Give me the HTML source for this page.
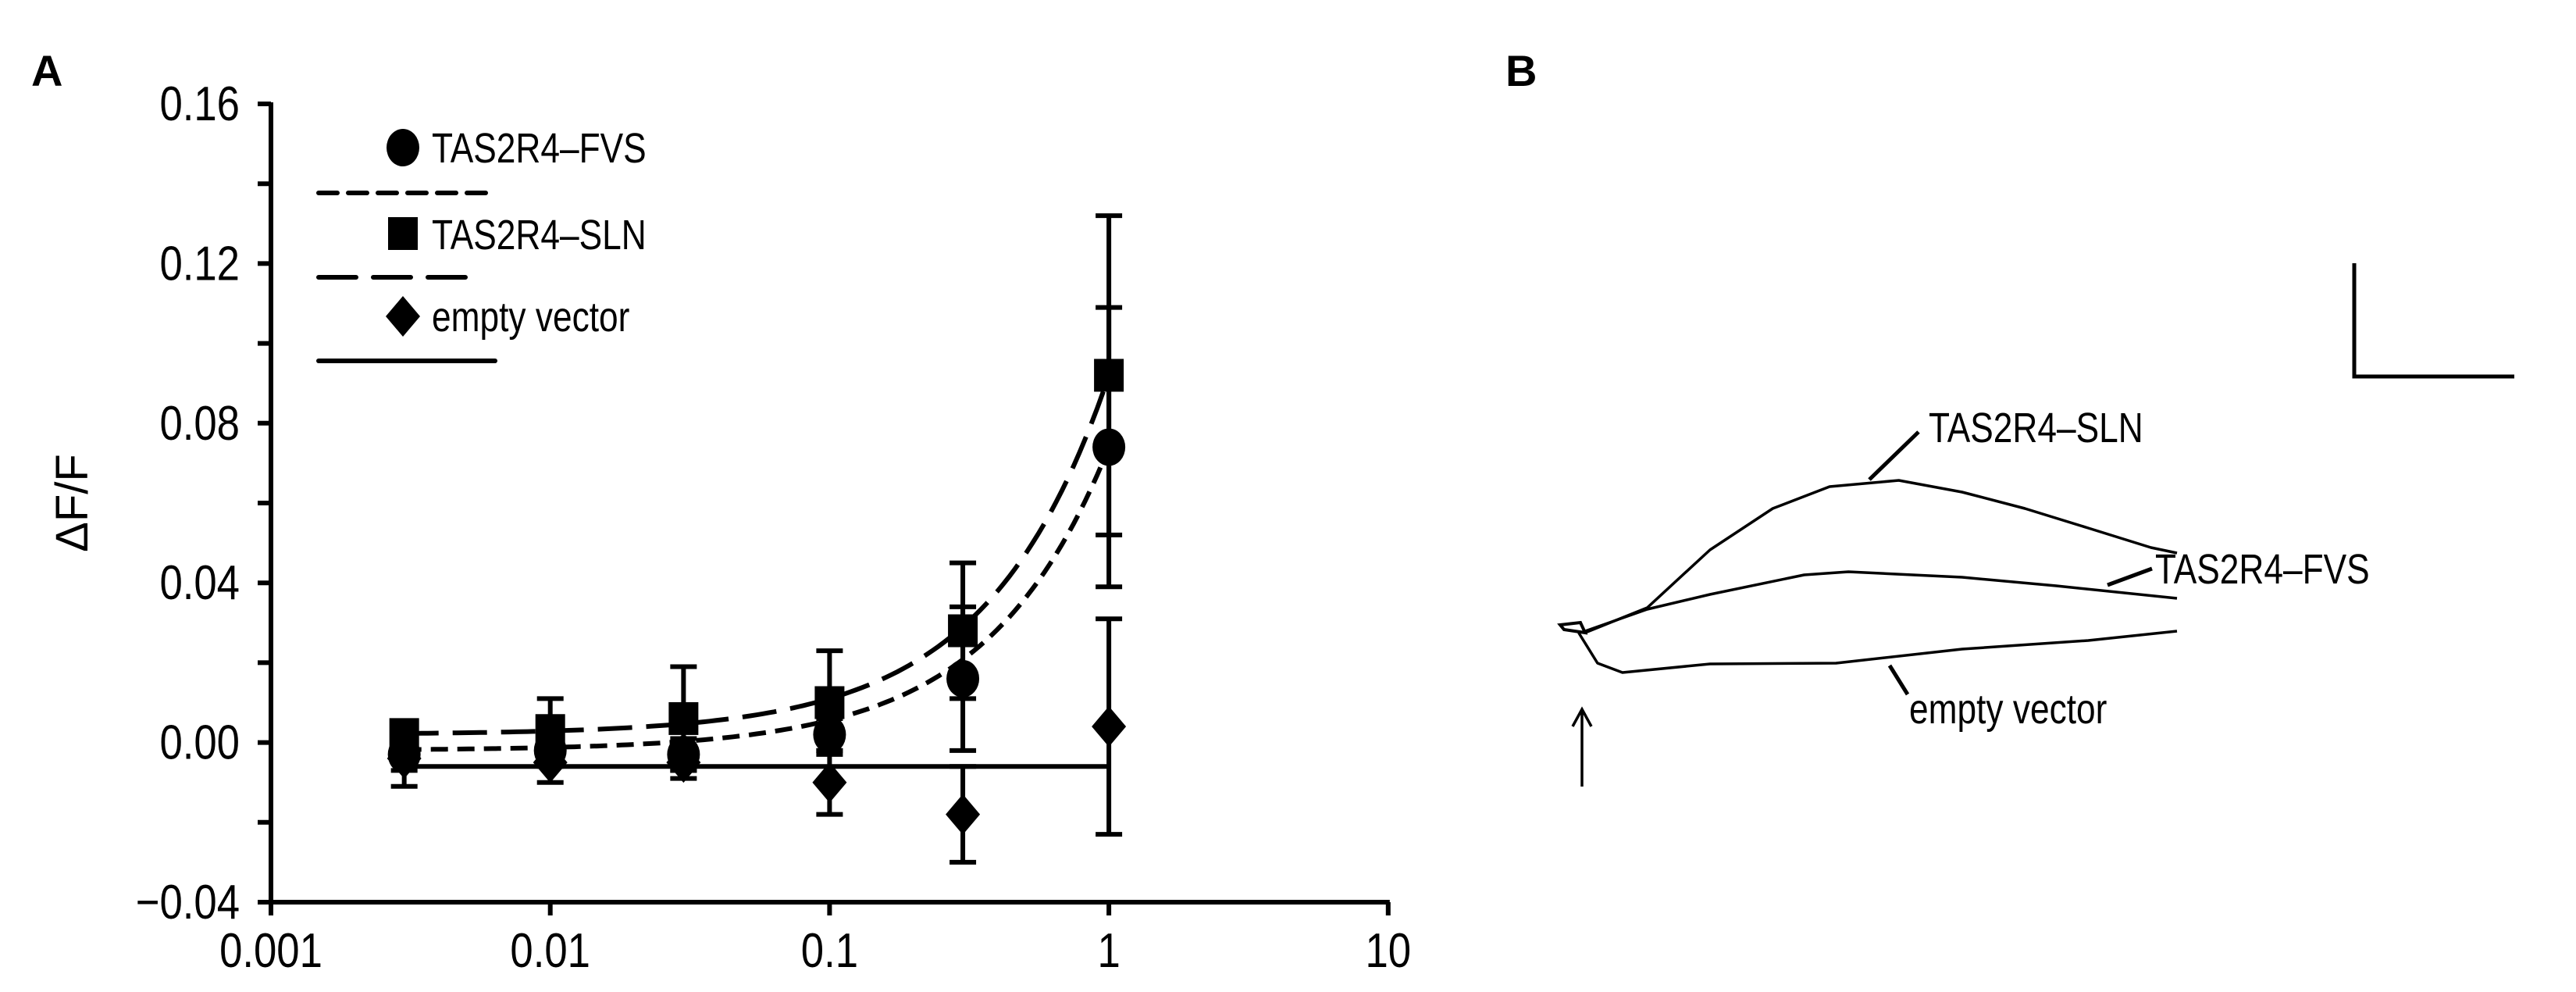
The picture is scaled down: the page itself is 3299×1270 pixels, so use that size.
<!DOCTYPE html>
<html><head><meta charset="utf-8"><style>
html,body{margin:0;padding:0;background:#fff;}
svg{display:block;}
text{font-family:"Liberation Sans",sans-serif;fill:#000;}
</style></head><body>
<svg id="fig" width="3299" height="1270" viewBox="0 0 3299 1270">
<text x="40" y="110" font-size="56" font-weight="bold">A</text>
<text x="1928" y="110" font-size="56" font-weight="bold">B</text>
<g id="axes"></g>
<g id="plot"></g>
<g id="legend"></g>
<g id="traces"></g>
</svg>
<script>
const xVals=[0.003,0.01,0.03,0.1,0.3,1];
const fvsVals=[-0.003,-0.002,-0.003,0.002,0.016,0.074];
const fvsErr=[0.004,0.004,0.004,0.004,0.018,0.035];
const slnVals=[0.002,0.003,0.006,0.010,0.028,0.092];
const slnErr=[0.003,0.008,0.013,0.013,0.017,0.040];
const evVals=[-0.004,-0.005,-0.005,-0.010,-0.018,0.004];
const evErr=[0.007,0.005,0.004,0.008,0.012,0.027];
const evLevel=-0.006;
const fvsFit=[-0.002,0.076];
const slnFit=[0.002,0.090];
const yTicks=[-0.04,0,0.04,0.08,0.12,0.16];
const yTickLabels=["\u22120.04","0.00","0.04","0.08","0.12","0.16"];
const xTicks=[0.001,0.01,0.1,1,10];
const xTickLabels=["0.001","0.01","0.1","1","10"];
// panel B traces: [time fraction, response]
const slnTrace=[[0,0.0],[0.105,0.032],[0.211,0.106],[0.317,0.159],[0.413,0.187],[0.53,0.195],[0.637,0.18],[0.743,0.159],[0.85,0.134],[0.956,0.109],[1,0.102]];
const fvsTrace=[[0,0.002],[0.105,0.03],[0.211,0.049],[0.37,0.074],[0.445,0.078],[0.637,0.071],[0.796,0.06],[1,0.044]];
const evTrace=[[-0.011,0.0],[0.021,-0.039],[0.063,-0.051],[0.211,-0.04],[0.424,-0.039],[0.637,-0.021],[0.85,-0.01],[1,0.002]];

const NS="http://www.w3.org/2000/svg";
const X0=347,DEC=357.7,Y0=133,YPU=5110;
function sx(v){return X0+(Math.log10(v)+3)*DEC;}
function sy(v){return Y0+(0.16-v)*YPU;}
function mk(tag,attrs,parent){const e=document.createElementNS(NS,tag);for(const k in attrs)e.setAttribute(k,attrs[k]);parent.appendChild(e);return e;}
const axes=document.getElementById('axes'),plot=document.getElementById('plot'),leg=document.getElementById('legend'),tr=document.getElementById('traces');
const SC=0.85,LS=0.82;

let e=mk('line',{x1:X0,y1:sy(0.16)-2,x2:X0,y2:sy(-0.04)+17,stroke:'#000','stroke-width':6},axes);

e=mk('line',{x1:X0-17,y1:sy(-0.04),x2:sx(10)+2,y2:sy(-0.04),stroke:'#000','stroke-width':6},axes);

for(let v=-0.04;v<=0.1601;v+=0.02){const y=sy(v);
 e=mk('line',{x1:X0-17,y1:y,x2:X0,y2:y,stroke:'#000','stroke-width':6},axes);
 }
yTicks.forEach((v,i)=>{e=mk('text',{x:(X0-40)/SC,y:sy(v)+21,'font-size':62,'text-anchor':'end',transform:`scale(${SC},1)`},axes);e.textContent=yTickLabels[i];
 });
xTicks.forEach((v,i)=>{const x=sx(v);
 e=mk('line',{x1:x,y1:sy(-0.04),x2:x,y2:sy(-0.04)+17,stroke:'#000','stroke-width':6},axes);
 
 e=mk('text',{x:x/SC,y:1238,'font-size':62,'text-anchor':'middle',transform:`scale(${SC},1)`},axes);e.textContent=xTickLabels[i];
 });
e=mk('text',{x:0,y:0,'font-size':58,'text-anchor':'middle',transform:`translate(112,${sy(0.06)}) rotate(-90)`},axes);e.textContent='\u0394F/F';


function fitPath(p){let d='';for(let k=0;k<=120;k++){const lx=Math.log10(0.003)+k*(0-Math.log10(0.003))/120;const x=Math.pow(10,lx);d+=(k?'L':'M')+sx(x).toFixed(1)+','+sy(p[0]+p[1]*x).toFixed(1);}return d;}
e=mk('path',{d:fitPath(fvsFit),fill:'none',stroke:'#000','stroke-width':6,'stroke-dasharray':'22 12'},plot);

e=mk('path',{d:fitPath(slnFit),fill:'none',stroke:'#000','stroke-width':6,'stroke-dasharray':'44 18'},plot);

e=mk('line',{x1:sx(0.003),y1:sy(evLevel),x2:sx(1),y2:sy(evLevel),stroke:'#000','stroke-width':6},plot);


function errbar(x,v,er,name){const X=sx(x);
 e=mk('path',{d:`M${X},${sy(v+er)}V${sy(v-er)}M${X-17},${sy(v+er)}h34M${X-17},${sy(v-er)}h34`,stroke:'#000','stroke-width':6,fill:'none'},plot);
 }
xVals.forEach((x,i)=>{errbar(x,evVals[i],evErr[i],'empty-vector-error-bar');errbar(x,fvsVals[i],fvsErr[i],'fvs-error-bar');errbar(x,slnVals[i],slnErr[i],'sln-error-bar');});
function diamond(cx,cy,p){return mk('path',{d:`M${cx},${cy-26}L${cx+22},${cy}L${cx},${cy+26}L${cx-22},${cy}Z`,fill:'#000'},p);}
xVals.forEach((x,i)=>{
 e=diamond(sx(x),sy(evVals[i]),plot);
 e=mk('rect',{x:sx(x)-19,y:sy(slnVals[i])-21,width:38,height:42,fill:'#000'},plot);
 e=mk('ellipse',{cx:sx(x),cy:sy(fvsVals[i]),rx:21,ry:24,fill:'#000'},plot);
});

e=mk('ellipse',{cx:516,cy:189,rx:21,ry:24,fill:'#000'},leg);
e=mk('text',{x:553/LS,y:208,'font-size':54,transform:`scale(${LS},1)`},leg);e.textContent='TAS2R4\u2013FVS';
e=mk('line',{x1:408,y1:247,x2:634,y2:247,stroke:'#000','stroke-width':6,'stroke-dasharray':'24 14','stroke-linecap':'round'},leg);
e=mk('rect',{x:497,y:278,width:38,height:42,fill:'#000'},leg);
e=mk('text',{x:553/LS,y:319,'font-size':54,transform:`scale(${LS},1)`},leg);e.textContent='TAS2R4\u2013SLN';
e=mk('line',{x1:408,y1:355,x2:618,y2:355,stroke:'#000','stroke-width':6,'stroke-dasharray':'48 22','stroke-linecap':'round'},leg);
e=diamond(516,405,leg);
e=mk('text',{x:553/LS,y:424,'font-size':54,transform:`scale(${LS},1)`},leg);e.textContent='empty vector';
e=mk('line',{x1:408,y1:462,x2:634,y2:462,stroke:'#000','stroke-width':6,'stroke-linecap':'round'},leg);

// panel B
const TX0=2030,TW=758,TY0=810,TPU=1000;
function tpath(arr){return arr.map((p,k)=>(k?'L':'M')+(TX0+p[0]*TW).toFixed(1)+','+(TY0-p[1]*TPU).toFixed(1)).join('');}
[[slnTrace,'sln-trace'],[fvsTrace,'fvs-trace'],[evTrace,'empty-vector-trace']].forEach(([a,n])=>{
 e=mk('path',{d:tpath(a),fill:'none',stroke:'#000','stroke-width':3.5,'stroke-linejoin':'round'},tr);});
e=mk('path',{d:'M1998,800L2024,797L2030,810L2003,806Z',fill:'none',stroke:'#000','stroke-width':4},tr);
e=mk('path',{d:'M3015,337V482H3220',fill:'none',stroke:'#000','stroke-width':5},tr);
e=mk('path',{d:'M2026,1007V908M2014,930L2026,908L2038,930',fill:'none',stroke:'#000','stroke-width':3.5},tr);
e=mk('line',{x1:2394,y1:614,x2:2457,y2:553,stroke:'#000','stroke-width':5},tr);
e=mk('text',{x:2470/LS,y:566,'font-size':54,transform:`scale(${LS},1)`},tr);e.textContent='TAS2R4\u2013SLN';
e=mk('line',{x1:2699,y1:749,x2:2756,y2:728,stroke:'#000','stroke-width':5},tr);
e=mk('text',{x:2760/LS,y:747,'font-size':54,transform:`scale(${LS},1)`},tr);e.textContent='TAS2R4\u2013FVS';
e=mk('line',{x1:2420,y1:852,x2:2443,y2:889,stroke:'#000','stroke-width':5},tr);
e=mk('text',{x:2445/LS,y:926,'font-size':54,transform:`scale(${LS},1)`},tr);e.textContent='empty vector';
</script>
</body></html>
